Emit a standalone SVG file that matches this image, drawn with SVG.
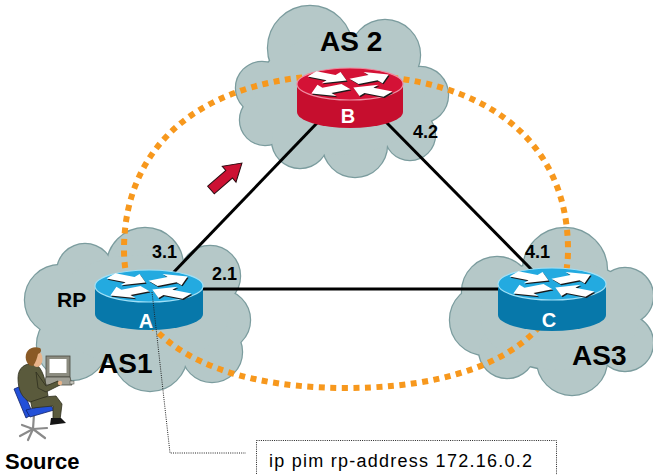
<svg xmlns="http://www.w3.org/2000/svg" xmlns:xlink="http://www.w3.org/1999/xlink" width="653" height="475" viewBox="0 0 653 475">
  <style>
    .lbl { font-family: "Liberation Sans", Arial, sans-serif; font-weight: bold; fill: #000; }
    .as { font-size: 28px; }
    .rtr-letter { font-family: "Liberation Sans", Arial, sans-serif; font-weight: bold; font-size: 20px; fill: #fff; text-anchor: middle; }
    .link { stroke: #000; stroke-width: 3; fill: none; }
    .loop { fill: none; stroke: #f7981d; stroke-width: 6; stroke-dasharray: 6 5.5; }
    .red-side { fill: #c60e2e; }
    .red-top { fill: #d41236; stroke: #ef8ba0; stroke-width: 1.2; }
    .blue-side { fill: #0778aa; }
    .blue-top { fill: #23aae0; stroke: #9fe0f7; stroke-width: 1.2; }
    .dotted { fill: none; stroke: #222; stroke-width: 1; stroke-dasharray: 1 1.2; }
    .cmd { font-family: "Liberation Sans", Arial, sans-serif; font-size: 18px; fill: #000; }
  </style>
  <defs>
    <!-- cloud outlines built from overlapping circles -->
    <g id="cloud-as2">
      <circle cx="262" cy="88" r="26"/>
      <circle cx="310" cy="48" r="42"/>
      <circle cx="385" cy="55" r="35"/>
      <circle cx="420" cy="95" r="28"/>
      <circle cx="265" cy="120" r="25"/>
      <circle cx="300" cy="140" r="28"/>
      <circle cx="355" cy="145" r="32"/>
      <circle cx="410" cy="135" r="25"/>
      <ellipse cx="340" cy="95" rx="85" ry="60"/>
    </g>
    <g id="cloud-as1">
      <circle cx="60" cy="300" r="35"/>
      <circle cx="85" cy="272" r="28"/>
      <circle cx="145" cy="266" r="38"/>
      <circle cx="210" cy="276" r="30"/>
      <circle cx="220" cy="320" r="30"/>
      <circle cx="212" cy="352" r="30"/>
      <circle cx="150" cy="354" r="37"/>
      <circle cx="72" cy="345" r="35"/>
      <ellipse cx="140" cy="310" rx="90" ry="55"/>
    </g>
    <g id="cloud-as3">
      <circle cx="565" cy="270" r="42"/>
      <circle cx="497" cy="292" r="35"/>
      <circle cx="485" cy="320" r="35"/>
      <circle cx="507" cy="350" r="28"/>
      <circle cx="572" cy="360" r="35"/>
      <circle cx="625" cy="343" r="28"/>
      <circle cx="625" cy="296" r="28"/>
      <ellipse cx="560" cy="315" rx="80" ry="55"/>
    </g>
    <!-- white arrow glyph used on router tops -->
    <path id="rarrow" d="M0,-9 H22 V-19 L40,0 L22,19 V9 H0 Z"/>
    <g id="arrow-set">
      <use xlink:href="#rarrow" transform="translate(-38,-30) rotate(30)"/>
      <use xlink:href="#rarrow" transform="translate(4,-8) rotate(-30)"/>
      <use xlink:href="#rarrow" transform="translate(-4,8) rotate(150)"/>
      <use xlink:href="#rarrow" transform="translate(38,30) rotate(210)"/>
    </g>
    <g id="router-arrows">
      <g fill="#1a1a1a" transform="translate(1,1.2) scale(1,0.34)"><use xlink:href="#arrow-set"/></g>
      <g fill="#ffffff" transform="scale(1,0.34)"><use xlink:href="#arrow-set"/></g>
    </g>
  </defs>

  <!-- clouds -->
  <g id="clouds">
    <use xlink:href="#cloud-as2" fill="#b5c8c8" stroke="#7b9c9e" stroke-width="2.4"/>
    <use xlink:href="#cloud-as2" fill="#b5c8c8"/>
    <use xlink:href="#cloud-as1" fill="#b5c8c8" stroke="#7b9c9e" stroke-width="2.4"/>
    <use xlink:href="#cloud-as1" fill="#b5c8c8"/>
    <use xlink:href="#cloud-as3" fill="#b5c8c8" stroke="#7b9c9e" stroke-width="2.4"/>
    <use xlink:href="#cloud-as3" fill="#b5c8c8"/>
  </g>

  <!-- dotted orange loop -->
  <path id="loop" class="loop" d="M346,75 C484,75 568,140 568,250 C568,340 480,388 346,388 C212,388 124,340 124,250 C124,140 208,75 346,75 Z"/>

  <!-- connectors -->
  <g id="connectors">
    <line class="link" x1="172" y1="274" x2="318" y2="122"/>
    <line class="link" x1="386" y1="122" x2="532" y2="270"/>
    <line class="link" x1="200" y1="289" x2="500" y2="289"/>
  </g>

  <!-- direction arrow -->
  <g id="flow-arrow">
    <polygon points="0,-5 24,-5 24,-10.5 41,0 24,10.5 24,5 0,5" transform="translate(211,190) rotate(-41)" fill="#cc1133" stroke="#2a0a10" stroke-width="1"/>
  </g>

  <!-- router B -->
  <g id="router-b">
    <path class="red-side" d="M297,84 V112 A53,16 0 0 0 403,112 V84 Z"/>
    <ellipse class="red-top" cx="350" cy="84" rx="53" ry="16"/>
    <use xlink:href="#router-arrows" transform="translate(350,84)"/>
    <text class="rtr-letter" x="348" y="123">B</text>
  </g>

  <!-- router A -->
  <g id="router-a">
    <path class="blue-side" d="M95,286 V314 A54,16 0 0 0 203,314 V286 Z"/>
    <ellipse class="blue-top" cx="149" cy="286" rx="54" ry="16"/>
    <use xlink:href="#router-arrows" transform="translate(149,286)"/>
    <text class="rtr-letter" x="146" y="328">A</text>
  </g>

  <!-- router C -->
  <g id="router-c">
    <path class="blue-side" d="M498,284 V315 A54,16 0 0 0 606,315 V284 Z"/>
    <ellipse class="blue-top" cx="552" cy="284" rx="54" ry="16"/>
    <use xlink:href="#router-arrows" transform="translate(552,284)"/>
    <text class="rtr-letter" x="549" y="327">C</text>
  </g>

  <!-- labels -->
  <g id="labels">
    <text class="lbl as" x="320" y="51">AS 2</text>
    <text class="lbl as" x="98" y="373">AS1</text>
    <text class="lbl as" x="572" y="365">AS3</text>
    <text class="lbl" font-size="21" x="57" y="307">RP</text>
    <text class="lbl" font-size="18" x="152" y="258">3.1</text>
    <text class="lbl" font-size="18" x="212" y="280">2.1</text>
    <text class="lbl" font-size="18" x="413" y="138">4.2</text>
    <text class="lbl" font-size="18" x="525" y="258">4.1</text>
    <text class="lbl" font-size="22" x="5" y="469">Source</text>
  </g>

  <!-- configuration callout -->
  <g id="callout">
    <polyline class="dotted" points="152,292 170,453 246,453"/>
    <rect class="dotted" x="256.5" y="440.5" width="300" height="50"/>
    <text class="cmd" x="269" y="467" textLength="263" lengthAdjust="spacing">ip pim rp-address 172.16.0.2</text>
  </g>

  <!-- source host: user at a workstation -->
  <g id="source">
    <!-- chair base -->
    <g stroke="#8a8a8a" stroke-width="2.2" fill="none" stroke-linecap="round">
      <line x1="34" y1="414" x2="33" y2="429"/>
      <line x1="33" y1="429" x2="20" y2="436"/>
      <line x1="33" y1="429" x2="28" y2="440"/>
      <line x1="33" y1="429" x2="45" y2="438"/>
      <line x1="33" y1="429" x2="47" y2="428"/>
      <line x1="33" y1="429" x2="22" y2="425"/>
    </g>
    <!-- chair back and seat -->
    <polygon points="14,389 21,386 33,414 26,418" fill="#2350d8" stroke="#10226a" stroke-width="0.8"/>
    <polygon points="26,410 50,404 54,410 30,417" fill="#2350d8" stroke="#10226a" stroke-width="0.8"/>
    <!-- monitor -->
    <rect x="46" y="356" width="24" height="21" fill="#8c8c80" stroke="#4a4a40" stroke-width="0.8"/>
    <rect x="49.5" y="359" width="17" height="14" fill="#ffffff"/>
    <polygon points="46,377 70,377 72,385 44,385" fill="#a0a096" stroke="#4a4a40" stroke-width="0.8"/>
    <rect x="70" y="381" width="4" height="3" fill="#c8c8c0" stroke="#4a4a40" stroke-width="0.5"/>
    <!-- legs -->
    <path d="M30,398 L56,396 L62,404 L60,420 L53,420 L53,406 L32,408 Z" fill="#5a5a3c" stroke="#2e2e1e" stroke-width="0.8"/>
    <path d="M51,418 L61,418 L66,423 L50,425 Z" fill="#141414"/>
    <!-- torso and arm -->
    <path d="M18,378 C18,368 25,363 33,364 L38,366 C44,372 46,384 48,396 L30,402 C22,398 18,390 18,378 Z" fill="#5a5a3c" stroke="#2e2e1e" stroke-width="0.8"/>
    <path d="M36,372 L46,386 L58,381 L60,385 L46,392 L38,388 Z" fill="#5a5a3c" stroke="#2e2e1e" stroke-width="0.8"/>
    <circle cx="60" cy="383" r="2.2" fill="#e8b48a"/>
    <!-- head -->
    <ellipse cx="37" cy="359" rx="5.5" ry="8" fill="#e8b48a"/>
    <path d="M26,360 C24,350 32,345 40,348 C42,350 41,353 38,354 C37,358 36,362 33,366 C29,366 27,363 26,360 Z" fill="#8a5a26"/>
  </g>
</svg>
